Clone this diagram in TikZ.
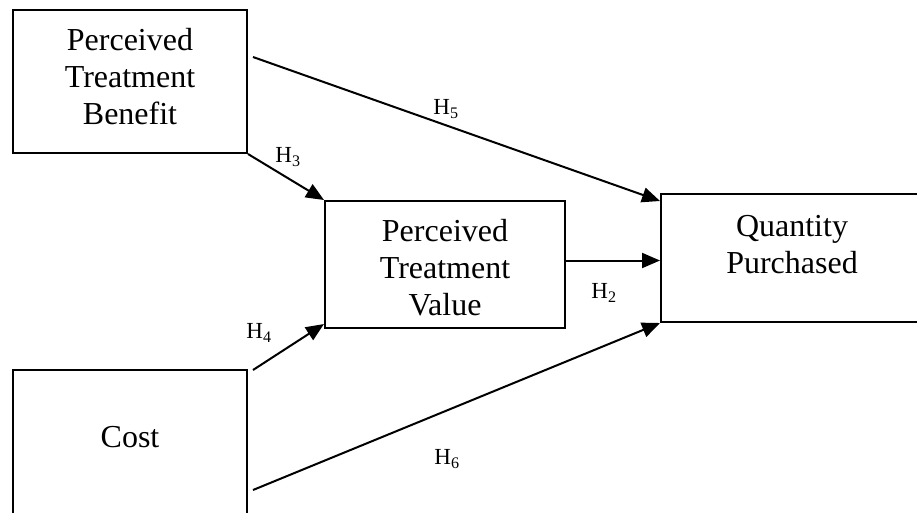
\documentclass[tikz,border=0pt]{standalone}
\usepackage{fontspec}
\setmainfont{Liberation Serif}
\usetikzlibrary{arrows.meta}
\begin{document}
\begin{tikzpicture}[x=1pt,y=-1pt,
  box/.style={draw=black,line width=2pt,rectangle,inner sep=0pt},
  txt/.style={inner sep=0pt,align=center,font=\fontsize{32}{37}\selectfont},
  arr/.style={line width=2pt,-{Triangle[length=18pt,width=15pt]}},
  hlab/.style={inner sep=0pt,font=\fontsize{23}{26}\selectfont}]
\useasboundingbox (0,0) rectangle (917,512);
\fill[white] (0,0) rectangle (917,512);
\node[box,minimum width=234pt,minimum height=143pt] (ptb) at (130,81.5) {};
\node[txt] (ptbtext) at (130,77) {Perceived\\Treatment\\Benefit};
\node[box,minimum width=240pt,minimum height=127pt] (ptv) at (445,264.5) {};
\node[txt] (ptvtext) at (445,268) {Perceived\\Treatment\\Value};
\node[box,minimum width=260pt,minimum height=128pt] (qp) at (791,258) {};
\node[txt] (qptext) at (792,245) {Quantity\\Purchased};
\node[box,minimum width=234pt,minimum height=160pt] (cost) at (130,450) {};
\node[txt] (costtext) at (130,437) {Cost};
\coordinate (h5s) at (253,57);
\coordinate (h4s) at (253,370);
\coordinate (h6s) at (253,490);
\draw[arr] (h5s) -- ([yshift=-8pt]qp.north west);
\draw[arr] (ptb.south east) -- (ptv.north west);
\draw[arr] ([yshift=4pt]ptv.east) -- ([yshift=4pt]ptv.east -| qp.west);
\draw[arr] (h4s) -- ([yshift=5pt]ptv.south west);
\draw[arr] (h6s) -- (qp.south west);
\node[hlab] (l5) at (446,109) {H\textsubscript{5}};
\node[hlab] (l3) at (288,157) {H\textsubscript{3}};
\node[hlab] (l2) at (604,293) {H\textsubscript{2}};
\node[hlab] (l4) at (259,333) {H\textsubscript{4}};
\node[hlab] (l6) at (447,459) {H\textsubscript{6}};
\end{tikzpicture}
\end{document}
